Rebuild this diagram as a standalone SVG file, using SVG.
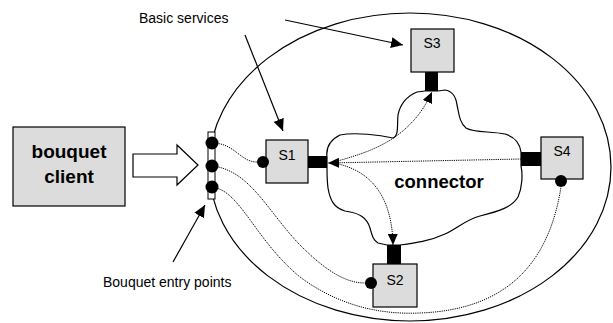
<svg xmlns="http://www.w3.org/2000/svg" width="613" height="323" viewBox="0 0 613 323">
<defs>
<style>
.box{fill:#dcdcdc;stroke:#000;stroke-width:1.2}
.lbl{font-family:"Liberation Sans",Arial,sans-serif;font-size:14px;fill:#000}
.bold{font-family:"Liberation Sans",Arial,sans-serif;font-weight:bold;fill:#000}
.dot{stroke:#000;stroke-width:1;fill:none;stroke-dasharray:1.2,1}
.solid{stroke:#000;stroke-width:1.2;fill:none}
.port{fill:#000}
</style>
<marker id="ah" markerWidth="12" markerHeight="11" refX="12" refY="5.5" orient="auto" markerUnits="userSpaceOnUse">
<path d="M0,0 L12,5.5 L0,11 z" fill="#000" stroke="none"/>
</marker>
<marker id="ahs" markerWidth="11" markerHeight="10" refX="11" refY="5" orient="auto" markerUnits="userSpaceOnUse">
<path d="M0,0 L11,5 L0,10 z" fill="#000" stroke="none"/>
</marker>
</defs>
<rect width="613" height="323" fill="#fff"/>
<g id="boundary">
<ellipse cx="410" cy="167" rx="201" ry="154" class="solid"/>
</g>
<g id="connector-cloud">
<path class="solid" fill="#fff" d="M327,157 C326,149 328,141 340,135 C355,132 380,135 393,138 C399,136 397,125 398,115 C400,105 405,97 417,92 L425,91 L438,91 L445,90 C452,91 456,97 457,105 C459,113 459,122 466,128 C474,133 490,131 505,134 C515,137 520,144 521,152 L521,166 C523,175 522,188 518,197 C512,207 500,211 480,216 C465,220 458,228 445,234 C430,241 415,243 400,245 L387,245 L378,243 C373,240 372,235 370,228 C367,218 360,213 345,211 C334,208 330,200 328,188 C327,180 327,174 327,168 Z"/>
<text class="bold" x="439" y="188" font-size="18.5" text-anchor="middle">connector</text>
</g>
<g id="client">
<rect class="box" x="13" y="127" width="112" height="79"/>
<text class="bold" x="69" y="158" font-size="19" text-anchor="middle">bouquet</text>
<text class="bold" x="69" y="183" font-size="19" text-anchor="middle">client</text>
</g>
<g id="block-arrow">
<polygon points="133,154 177,154 177,145 198,165 177,185 177,177 133,177" fill="#fff" stroke="#000" stroke-width="1.2"/>
</g>
<g id="S1">
<rect class="box" x="266" y="140" width="42" height="43"/>
<text class="lbl" x="287" y="160" text-anchor="middle">S1</text>
<rect class="port" x="308" y="156" width="19" height="12"/>
<circle cx="263" cy="162" r="6" fill="#000"/>
</g>
<g id="S2">
<rect class="box" x="373" y="264" width="44" height="43"/>
<text class="lbl" x="395" y="285" text-anchor="middle">S2</text>
<rect class="port" x="387" y="245" width="14" height="19"/>
<circle cx="371" cy="283" r="6" fill="#000"/>
</g>
<g id="S3">
<rect class="box" x="411" y="29" width="43" height="43"/>
<text class="lbl" x="432" y="48" text-anchor="middle">S3</text>
<rect class="port" x="425" y="72" width="13" height="19"/>
</g>
<g id="S4">
<rect class="box" x="541" y="137" width="42" height="42"/>
<text class="lbl" x="562" y="156" text-anchor="middle">S4</text>
<rect class="port" x="521" y="152" width="20" height="14"/>
<circle cx="561" cy="181" r="6" fill="#000"/>
</g>
<g id="entry-points">
<rect x="208" y="132" width="7" height="67" fill="#fff" stroke="#000" stroke-width="1"/>
<circle cx="212" cy="143" r="6.5" fill="#000"/>
<circle cx="212" cy="166" r="6.5" fill="#000"/>
<circle cx="212" cy="187" r="6.5" fill="#000"/>
</g>
<g id="connectors">
<path class="dot" d="M212,143 C235,143 240,162 257,162"/>
<path class="dot" d="M212,166 C250,170 268,212 300,245 C325,270 345,283 365,283"/>
<path class="dot" d="M212,187 C240,190 255,240 300,277 C335,303 375,315 420,313 C500,310 548,270 561,187"/>
<path class="dot" d="M521,159 L328,163" marker-end="url(#ahs)"/>
<path class="dot" d="M334,162 C370,152 410,140 432,92" marker-end="url(#ahs)"/>
<path class="dot" d="M334,163 C370,170 392,195 393,245" marker-end="url(#ahs)"/>
<path class="solid" d="M245,35 L283,131" marker-end="url(#ah)"/>
<path class="solid" d="M285,20 L403,45" marker-end="url(#ah)"/>
<path class="solid" d="M173,262 L205,205" marker-end="url(#ah)"/>
</g>
<g id="labels">
<text class="lbl" x="139" y="23" font-size="14.5">Basic services</text>
<text class="lbl" x="103" y="287" font-size="13.8">Bouquet entry points</text>
</g>
</svg>
